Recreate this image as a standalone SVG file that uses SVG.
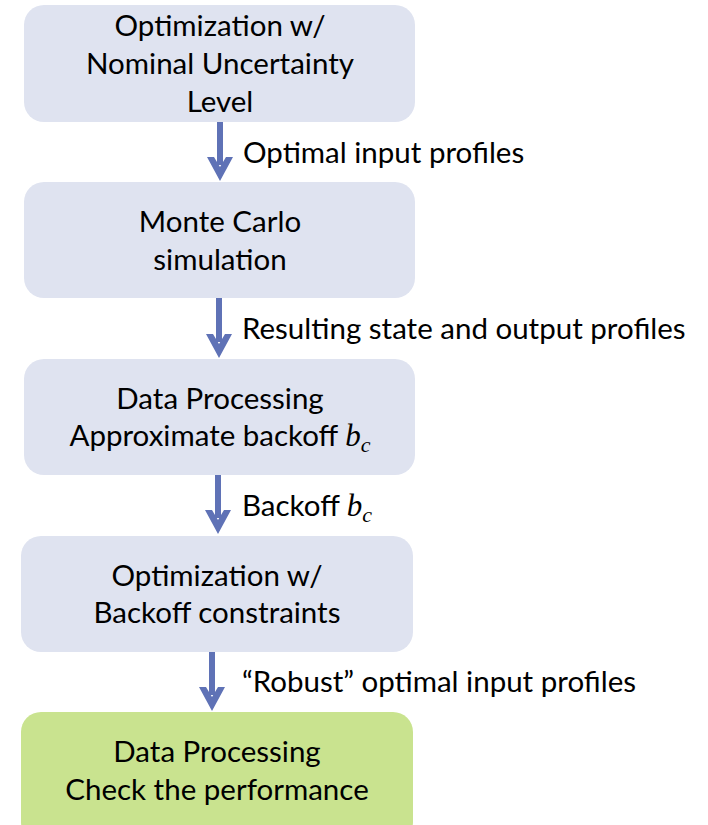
<svg xmlns="http://www.w3.org/2000/svg" width="708" height="825" viewBox="0 0 708 825">
<style>
.box{fill:#dfe3f0}
.green{fill:#c9e38f}
.t{font-family:Lato,"Open Sans","Liberation Sans",sans-serif;font-size:29.5px;fill:#000;text-anchor:middle}
.l{font-family:Lato,"Open Sans","Liberation Sans",sans-serif;font-size:29.5px;fill:#000}
.m{font-family:"Liberation Serif",serif;font-style:italic;font-size:31px}
.s{font-family:"Liberation Serif",serif;font-style:italic;font-size:22px}
.arr{stroke:#5f72b6;stroke-width:6;fill:none}
.head{fill:#5f72b6}
</style>
<rect width="708" height="825" fill="#fff"/>
<g id="connectors">
  <line class="arr" x1="220" y1="122" x2="220" y2="165"/>
  <path class="head" d="M207,157 L220,181 L233,157 L226,157 L220,167 L214,157 Z"/>
  <line class="arr" x1="219" y1="298" x2="219" y2="342"/>
  <path class="head" d="M206,334 L219,358 L232,334 L225,334 L219,344 L213,334 Z"/>
  <line class="arr" x1="218" y1="475" x2="218" y2="518"/>
  <path class="head" d="M205,510 L218,534 L231,510 L224,510 L218,520 L212,510 Z"/>
  <line class="arr" x1="212" y1="652" x2="212" y2="695"/>
  <path class="head" d="M199,687 L212,711 L225,687 L218,687 L212,697 L206,687 Z"/>
  <text class="l" x="243" y="163">Optimal input profiles</text>
  <text class="l" x="242" y="339">Resulting state and output profiles</text>
  <text class="l" x="242" y="516">Backoff <tspan class="m">b</tspan><tspan class="s" dy="6">c</tspan></text>
  <text class="l" x="242" y="692">“Robust” optimal input profiles</text>
</g>
<g id="node1">
  <rect class="box" x="24" y="5" width="391" height="117" rx="20"/>
  <text class="t" x="220" y="36">Optimization w/</text>
  <text class="t" x="220" y="74">Nominal Uncertainty</text>
  <text class="t" x="220" y="112">Level</text>
</g>
<g id="node2">
  <rect class="box" x="24" y="182" width="391" height="116" rx="20"/>
  <text class="t" x="220" y="232">Monte Carlo</text>
  <text class="t" x="220" y="270">simulation</text>
</g>
<g id="node3">
  <rect class="box" x="24" y="359" width="391" height="116" rx="20"/>
  <text class="t" x="220" y="409">Data Processing</text>
  <text class="t" x="220" y="446">Approximate backoff <tspan class="m">b</tspan><tspan class="s" dy="6">c</tspan></text>
</g>
<g id="node4">
  <rect class="box" x="21" y="536" width="392" height="116" rx="20"/>
  <text class="t" x="217" y="586">Optimization w/</text>
  <text class="t" x="217" y="623">Backoff constraints</text>
</g>
<g id="node5">
  <rect class="green" x="21" y="712" width="392" height="130" rx="20"/>
  <text class="t" x="217" y="762">Data Processing</text>
  <text class="t" x="217" y="800">Check the performance</text>
</g>
</svg>
